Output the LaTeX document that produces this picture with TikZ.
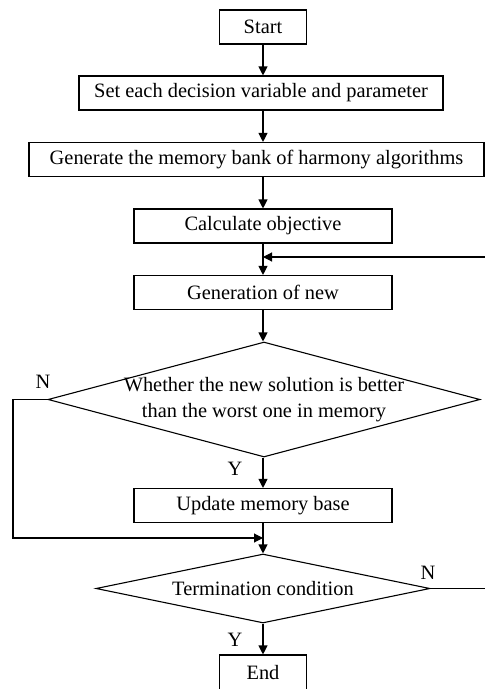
\documentclass[tikz,border=0pt]{standalone}
\usepackage{fontspec}
\setmainfont{Liberation Serif}
\usetikzlibrary{arrows.meta,shapes.geometric}
\begin{document}
\begin{tikzpicture}[x=1pt,y=-1pt, line width=1.1pt,
  box/.style={draw, inner sep=0pt, minimum height=34pt, font=\fontsize{20.4}{24}\selectfont},
  dia/.style={draw, diamond, inner sep=0pt},
  arr/.style={-{Triangle[length=9pt,width=9pt]}},
  lbl/.style={font=\fontsize{20.4}{26}\selectfont, inner sep=0pt}]
\useasboundingbox (0,0) rectangle (485,689);
\node[box, minimum width=87pt] (start) at (263,27) {Start};
\node[box, minimum width=364pt] (set) at (261,93) {Set each decision variable and parameter};
\node[box, minimum width=455pt] (gen) at (256.5,159.5) {Generate the memory bank of harmony algorithms};
\node[box, minimum width=258pt] (calc) at (263,226) {Calculate objective};
\node[box, minimum width=258pt] (newg) at (263,292.5) {Generation of new};
\node[dia, minimum width=432pt, minimum height=115pt] (d1) at (264,399.5) {};
\node[lbl, align=center] (d1t) at (d1.center) {Whether the new solution is better\\than the worst one in memory};
\node[box, minimum width=258pt] (upd) at (263,505.5) {Update memory base};
\node[dia, minimum width=334pt, minimum height=69pt] (d2) at (263,588.5) {};
\node[lbl] (d2t) at (d2.center) {Termination condition};
\node[box, minimum width=87pt, minimum height=35pt] (end) at (263,672.5) {End};
% labels
\node[lbl] (n1) at (43,382) {N};
\node[lbl] (y1) at (235,469) {Y};
\node[lbl] (n2) at (428,573) {N};
\node[lbl] (y2) at (235,640) {Y};
% connectors
\coordinate (fbR) at (485,257);
\coordinate (fbJ) at (263,257);
\coordinate (lj) at (263,538);
\draw[arr] (start.south) -- (start.south |- set.north);
\draw[arr] (start.south |- set.south) -- (start.south |- gen.north);
\draw[arr] (start.south |- gen.south) -- (calc.north);
\draw[arr] (calc.south) -- (newg.north);
\draw[arr] (fbR) -- (fbJ);
\draw[arr] (newg.south) -- (newg.south |- d1.north);
\draw[arr] (upd.north |- d1.south) -- (upd.north);
\draw[arr] (d1.west) -- (13,399.5) |- (lj);
\draw[arr] (upd.south) -- (d2.north);
\draw (d2.east) -- (fbR |- d2.east);
\draw[arr] (d2.south) -- (end.north);
\end{tikzpicture}
\end{document}
